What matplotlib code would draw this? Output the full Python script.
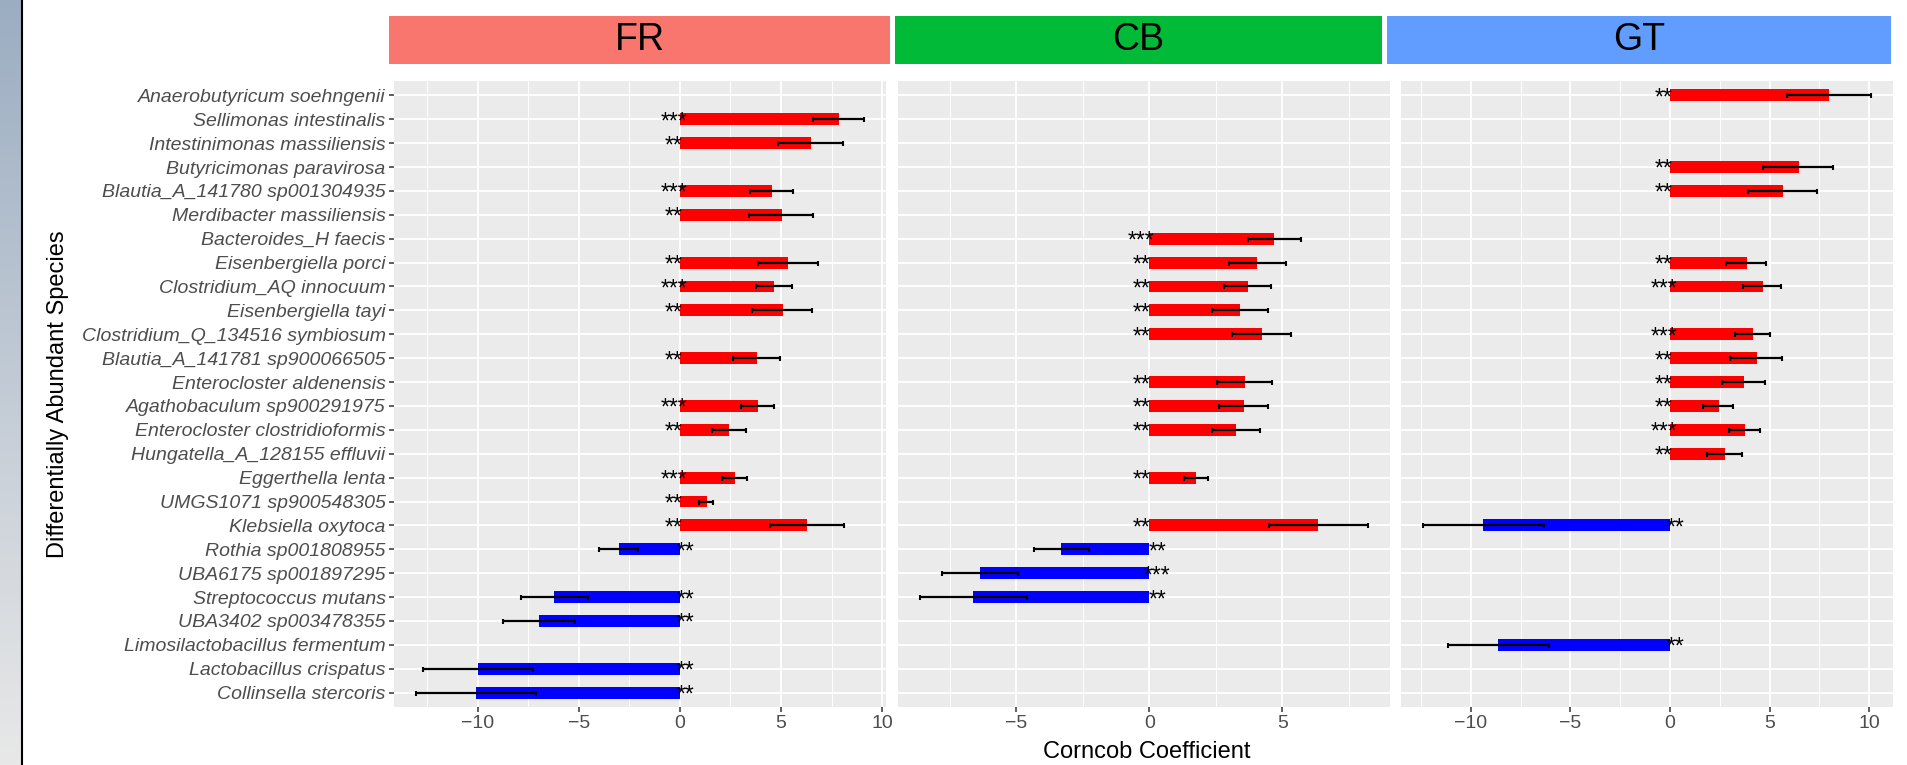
import numpy as np
import matplotlib
matplotlib.use("Agg")
import matplotlib.pyplot as plt
from matplotlib.lines import Line2D

nan = np.nan

species = [
    "Anaerobutyricum soehngenii", "Sellimonas intestinalis", "Intestinimonas massiliensis",
    "Butyricimonas paravirosa", "Blautia_A_141780 sp001304935", "Merdibacter massiliensis",
    "Bacteroides_H faecis", "Eisenbergiella porci", "Clostridium_AQ innocuum",
    "Eisenbergiella tayi", "Clostridium_Q_134516 symbiosum", "Blautia_A_141781 sp900066505",
    "Enterocloster aldenensis", "Agathobaculum sp900291975", "Enterocloster clostridioformis",
    "Hungatella_A_128155 effluvii", "Eggerthella lenta", "UMGS1071 sp900548305",
    "Klebsiella oxytoca", "Rothia sp001808955", "UBA6175 sp001897295",
    "Streptococcus mutans", "UBA3402 sp003478355", "Limosilactobacillus fermentum",
    "Lactobacillus crispatus", "Collinsella stercoris",
]

sites = ["FR", "CB", "GT"]
strip_colors = ["#F8766D", "#00BA38", "#619CFF"]

# coefficient, lower / upper end of error bar, significance
fr_coef = [nan, 7.87, 6.49, nan, 4.55, 5.05, nan, 5.35, 4.65, 5.10, nan, 3.81, nan,
           3.86, 2.43, nan, 2.72, 1.34, 6.29, -3.02, nan, -6.24, -6.98, nan, -10.0, -10.1]
fr_lo = [nan, 6.57, 4.85, nan, 3.47, 3.40, nan, 3.86, 3.76, 3.55, nan, 2.62, nan,
         3.02, 1.60, nan, 2.06, 0.94, 4.46, -3.98, nan, -7.84, -8.75, nan, -12.71, -13.04]
fr_hi = [nan, 9.09, 8.05, nan, 5.59, 6.60, nan, 6.83, 5.53, 6.55, nan, 4.93, nan,
         4.67, 3.25, nan, 3.32, 1.65, 8.10, -2.05, nan, -4.57, -5.20, nan, -7.28, -7.13]
fr_sig = ["", "***", "**", "", "***", "**", "", "**", "***", "**", "", "**", "",
          "***", "**", "", "***", "**", "**", "**", "", "**", "**", "", "**", "**"]

cb_coef = [nan, nan, nan, nan, nan, nan, 4.70, 4.06, 3.72, 3.42, 4.25, nan, 3.61,
           3.57, 3.27, nan, 1.77, nan, 6.35, -3.31, -6.35, -6.62, nan, nan, nan, nan]
cb_lo = [nan, nan, nan, nan, nan, nan, 3.71, 3.00, 2.82, 2.37, 3.10, nan, 2.54,
         2.63, 2.36, nan, 1.32, nan, 4.49, -4.32, -7.78, -8.61, nan, nan, nan, nan]
cb_hi = [nan, nan, nan, nan, nan, nan, 5.70, 5.13, 4.56, 4.45, 5.31, nan, 4.61,
         4.45, 4.15, nan, 2.19, nan, 8.21, -2.27, -4.92, -4.60, nan, nan, nan, nan]
cb_sig = ["", "", "", "", "", "", "***", "**", "**", "**", "**", "", "**",
          "**", "**", "", "**", "", "**", "**", "***", "**", "", "", "", ""]

gt_coef = [7.99, nan, nan, 6.48, 5.68, nan, nan, 3.87, 4.67, nan, 4.17, 4.37, 3.72,
           2.46, 3.77, 2.76, nan, nan, -9.40, nan, nan, nan, nan, -8.64, nan, nan]
gt_lo = [5.86, nan, nan, 4.69, 3.90, nan, nan, 2.80, 3.67, nan, 3.25, 3.02, 2.63,
         1.68, 2.95, 1.84, nan, nan, -12.38, nan, nan, nan, nan, -11.12, nan, nan]
gt_hi = [10.07, nan, nan, 8.17, 7.37, nan, nan, 4.84, 5.56, nan, 5.03, 5.64, 4.79,
         3.17, 4.52, 3.62, nan, nan, -6.31, nan, nan, nan, nan, -6.06, nan, nan]
gt_sig = ["**", "", "", "**", "**", "", "", "**", "***", "", "***", "**", "**",
          "**", "***", "**", "", "", "**", "", "", "", "", "**", "", ""]

site_data = [
    (fr_coef, fr_lo, fr_hi, fr_sig),
    (cb_coef, cb_lo, cb_hi, cb_sig),
    (gt_coef, gt_lo, gt_hi, gt_sig),
]

plt.rcParams["font.family"] = "Liberation Sans"

W, H = 1907, 765
fig = plt.figure(figsize=(W / 100, H / 100), dpi=100)


def px_axes(x0, y0, x1, y1):
    return fig.add_axes([x0 / W, 1 - y1 / H, (x1 - x0) / W, (y1 - y0) / H])


# window edge on the left of the screenshot
edge = px_axes(0, 0, 21, H)
grad = np.linspace(0, 1, 256)[:, None, None]
top_c = np.array([0.61, 0.68, 0.76])
bot_c = np.array([0.91, 0.91, 0.91])
edge.imshow(top_c + (bot_c - top_c) * grad, aspect="auto", extent=(0, 1, 0, 1))
edge.axis("off")
fig.add_artist(Line2D([22 / W, 22 / W], [0, 1], color="black", lw=1.5,
                      transform=fig.transFigure))

panel_boxes = [(394, 81, 886, 707), (898, 81, 1390, 707), (1401, 81, 1893, 707)]
strip_boxes = [(389, 16, 890, 64), (895, 16, 1382, 64), (1387, 16, 1891, 64)]

y = np.arange(len(species))

for k, (coef, lo, hi, sig) in enumerate(site_data):
    coef, lo, hi = np.array(coef), np.array(lo), np.array(hi)
    ax = px_axes(*panel_boxes[k])
    ax.set_facecolor("#EBEBEB")
    for s in ax.spines.values():
        s.set_visible(False)

    m = ~np.isnan(coef)
    colors = np.where(coef > 0, "#FF0000", "#0000FF")
    ax.barh(y[m], coef[m], height=0.5, color=colors[m], zorder=2)
    ax.errorbar(coef[m], y[m], xerr=[coef[m] - lo[m], hi[m] - coef[m]], fmt="none",
                ecolor="black", elinewidth=1.6, capsize=1.8, capthick=1.5, zorder=3)
    for i in np.where(m)[0]:
        xs = -0.3 if coef[i] > 0 else 0.3
        ax.annotate(sig[i], (xs, y[i]), xytext=(0, -9), textcoords="offset pixels",
                    ha="center", va="baseline", fontsize=16.5, zorder=4)

    # free x scale, ggplot style 5% expansion
    xmin, xmax = np.nanmin(lo), np.nanmax(hi)
    pad = 0.05 * (xmax - xmin)
    ax.set_xlim(xmin - pad, xmax + pad)
    ax.set_ylim(len(species) - 0.4, -0.6)

    major = np.arange(-10, 11, 5)
    major = major[(major > xmin - pad) & (major < xmax + pad)]
    minor = np.arange(-12.5, 12.6, 5)
    minor = minor[(minor > xmin - pad) & (minor < xmax + pad)]
    ax.set_xticks(major)
    ax.set_xticks(minor, minor=True)
    ax.set_yticks(y)
    ax.grid(which="major", color="white", lw=1.3, zorder=0)
    ax.grid(which="minor", axis="x", color="white", lw=0.7, zorder=0)
    ax.set_axisbelow(True)

    ax.tick_params(axis="x", which="major", length=3.5, width=1.1, color="#333333",
                   labelcolor="#4D4D4D", labelsize=14, pad=2.5)
    ax.tick_params(axis="x", which="minor", length=0)
    if k == 0:
        ax.set_yticklabels(species, style="italic")
        ax.tick_params(axis="y", length=3.5, width=1.1, color="#333333",
                       labelcolor="#4D4D4D", labelsize=14, pad=2.5)
    else:
        ax.tick_params(axis="y", left=False, labelleft=False)

    st = px_axes(*strip_boxes[k])
    st.set_facecolor(strip_colors[k])
    st.set_xticks([])
    st.set_yticks([])
    for s in st.spines.values():
        s.set_visible(False)
    st.text(0.5, 0.5, sites[k], ha="center", va="center", fontsize=27,
            transform=st.transAxes)

fig.text(58 / W, 1 - 394 / H, "Differentially Abundant Species", rotation=90,
         ha="center", va="center", fontsize=17)
fig.text(1147 / W, 1 - 758 / H, "Corncob Coefficient", ha="center", va="baseline",
         fontsize=17)

fig.savefig("out.png", dpi=100)
